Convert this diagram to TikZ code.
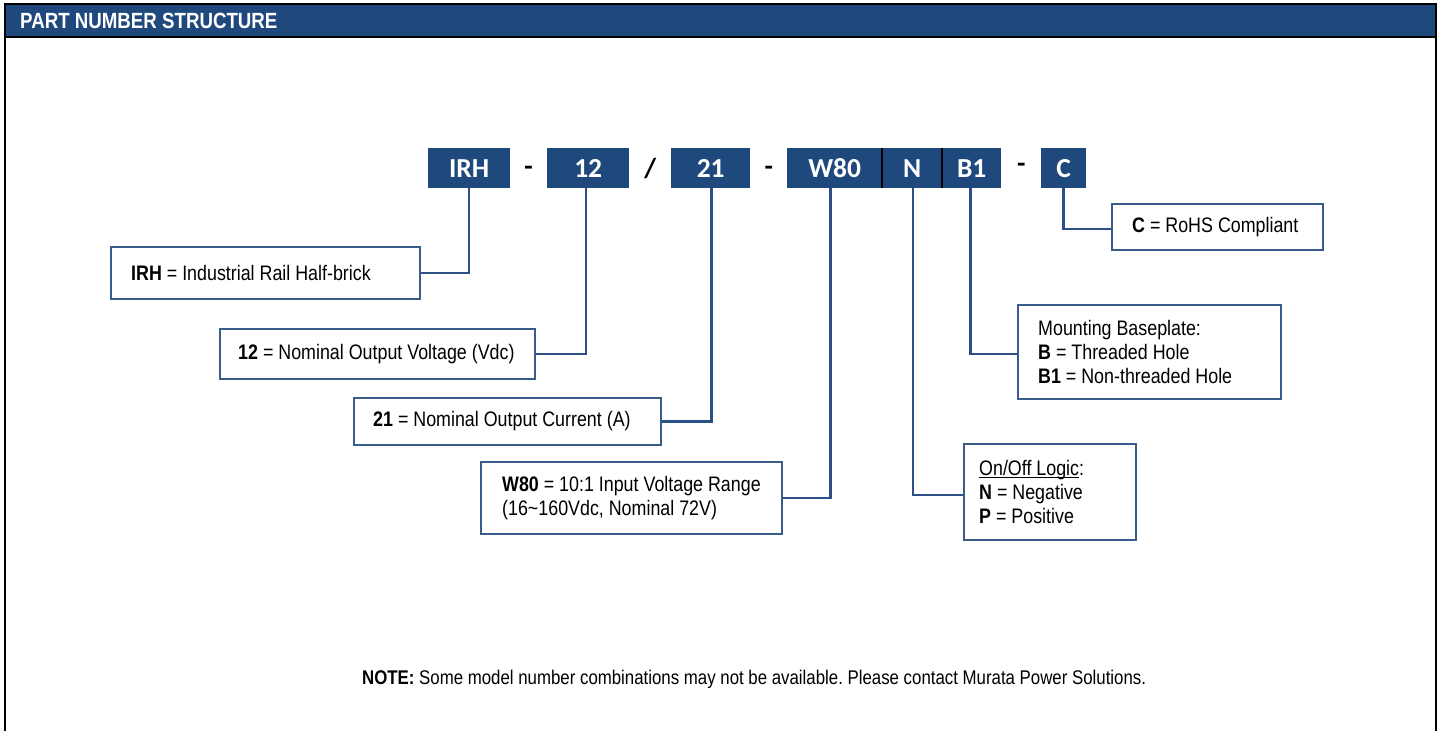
\documentclass[tikz,border=0pt]{standalone}
\usepackage{fontspec}
\setmainfont[FakeStretch=0.85]{Liberation Sans}
\newfontfamily\codefont{Carlito}
\usetikzlibrary{calc}
\definecolor{cblue}{HTML}{1F497D}
\definecolor{bblue}{HTML}{385D8A}
\definecolor{lblue}{HTML}{2C5085}
\frenchspacing
\newcommand{\myul}[1]{\setbox0\hbox{#1}\rlap{\rule[-2.5pt]{\wd0}{1.2pt}}\box0}
\begin{document}
\begin{tikzpicture}[x=1pt,y=-1pt,
  code/.style={fill=cblue, text=white, font=\codefont\bfseries\fontsize{27.5}{29}\selectfont, minimum height=40pt, inner sep=0pt, anchor=north west},
  sym/.style={font=\codefont\bfseries\fontsize{27.5}{29}\selectfont, inner sep=0pt},
  descbox/.style={draw=bblue, line width=2pt, fill=white, inner sep=0pt, anchor=north west},
  desctext/.style={font=\fontsize{21}{24}\selectfont, align=left, anchor=west, inner sep=0pt},
  conn/.style={draw=lblue, line width=2.5pt},
  frame/.style={draw=black, line width=2pt}]
\useasboundingbox (0,0) rectangle (1440,731);
% header
\fill[cblue] (5,4) rectangle (1436,37);
\draw[frame] (5,731) -- (5,4) -- (1436,4) -- (1436,731);
\draw[frame] (5,37) -- (1436,37);
\node[anchor=base west, text=white, font=\bfseries\fontsize{22}{24}\selectfont, inner sep=0pt] (title) at (20,28.5) {PART NUMBER STRUCTURE};
% code boxes
\node[code, minimum width=82pt] (cIRH) at (428,148) {IRH};
\node[code, minimum width=82pt] (c12) at (547,148) {12};
\node[code, minimum width=79pt] (c21) at (671,148) {21};
\node[code, minimum width=95pt] (cW80) at (787,148) {W80};
\node[code, minimum width=60pt] (cN) at (882,148) {N};
\node[code, minimum width=59pt] (cB1) at (942,148) {B1};
\node[code, minimum width=45pt] (cC) at (1041,148) {C};
\draw[black, line width=2pt] (cW80.north east) -- (cW80.south east);
\draw[black, line width=2pt] (cN.north east) -- (cN.south east);
\node[sym] (s1) at ($(cIRH.east)!0.5!(c12.west)+(0,3)$) {-};
\node[sym] (s2) at ($(c12.east)!0.5!(c21.west)$) {/};
\node[sym] (s3) at ($(c21.east)!0.5!(cW80.west)+(0,3)$) {-};
\node[sym] (s4) at ($(cB1.east)!0.5!(cC.west)$) {-};
% description boxes
\node[descbox, minimum width=309pt, minimum height=52pt] (dIRH) at (110,246) {};
\node[descbox, minimum width=315pt, minimum height=50pt] (d12) at (219,328) {};
\node[descbox, minimum width=307pt, minimum height=47pt] (d21) at (353,397) {};
\node[descbox, minimum width=301pt, minimum height=72pt] (dW80) at (480,461) {};
\node[descbox, minimum width=172pt, minimum height=96pt] (dN) at (963,443) {};
\node[descbox, minimum width=263pt, minimum height=94pt] (dB1) at (1017,304) {};
\node[descbox, minimum width=211pt, minimum height=46pt] (dC) at (1111,203) {};
% connectors
\draw[conn] (cIRH.south) |- (dIRH.east);
\draw[conn] ([xshift=-2pt]c12.south) |- (d12.east);
\draw[conn] ([xshift=1pt]c21.south) |- (d21.east);
\draw[conn] ([xshift=-4pt]cW80.south) |- (dW80.east);
\draw[conn] ([xshift=1pt]cN.south) |- ([yshift=-3pt]dN.west);
\draw[conn] ([xshift=-1pt]cB1.south) |- ([yshift=-2pt]dB1.west);
\draw[conn] (cC.south) |- ([yshift=-2pt]dC.west);
% texts
\node[desctext] (tIRH) at ([xshift=21pt]dIRH.west) {\textbf{IRH} = Industrial Rail Half-brick};
\node[desctext] (t12) at ([xshift=19pt]d12.west) {\textbf{12} = Nominal Output Voltage (Vdc)};
\node[desctext] (t21) at ([xshift=20pt]d21.west) {\textbf{21} = Nominal Output Current (A)};
\node[desctext] (tW80) at ([xshift=22pt]dW80.west) {\textbf{W80} = 10:1 Input Voltage Range\\(16\textasciitilde160Vdc, Nominal 72V)};
\node[desctext] (tN) at ([xshift=16pt]dN.west) {\myul{On/Off Logic}:\\\textbf{N} = Negative\\\textbf{P} = Positive};
\node[desctext] (tB1) at ([xshift=21pt]dB1.west) {Mounting Baseplate:\\\textbf{B} = Threaded Hole\\\textbf{B1} = Non-threaded Hole};
\node[desctext] (tC) at ([xshift=21pt]dC.west) {\textbf{C} = RoHS Compliant};
% note
\node[anchor=base west, inner sep=0pt, font=\fontsize{19.8}{22}\selectfont] (note) at (362,684) {\textbf{NOTE:} Some model number combinations may not be available. Please contact Murata Power Solutions.};
\end{tikzpicture}
\end{document}
